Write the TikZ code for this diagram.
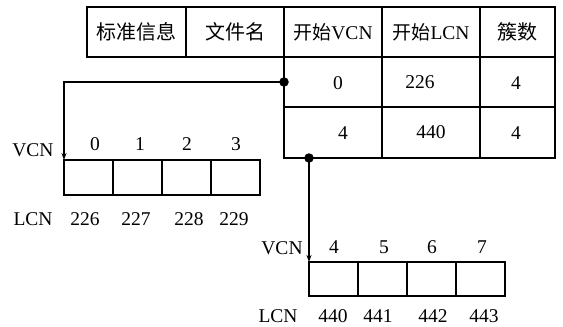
\documentclass[tikz,border=0pt]{standalone}
\usepackage{fontspec}
\setmainfont{Liberation Serif}
\newfontfamily\cjk{Noto Sans CJK SC}
\usetikzlibrary{arrows.meta}
\begin{document}
\begin{tikzpicture}[x=1pt,y=-1pt,
  lw/.style={line width=1.4pt},
  cell/.style={draw,lw,rectangle,inner sep=0pt,outer sep=0pt,font=\fontsize{19.5}{21}\selectfont},
  hcell/.style={cell,minimum height=50pt},
  blk/.style={draw,lw,rectangle,inner sep=0pt,outer sep=0pt,minimum width=49pt},
  lbl/.style={inner sep=0pt,font=\fontsize{19.5}{21}\selectfont},
  cj/.style={font=\fontsize{20}{22}\selectfont\cjk},
  conn/.style={lw,-{Stealth[length=7pt,width=5pt]}},
  dot/.style={circle,fill,inner sep=0pt,minimum size=9.5pt}
]
\useasboundingbox (0,0) rectangle (563,327);
% header row
\node[hcell,cj,minimum width=99pt] (h1) at (136.5,32) {标准信息};
\node[hcell,cj,minimum width=98pt] (h2) at (235,32) {文件名};
\node[hcell,minimum width=98pt] (h3) at (333,32) {{\cjk\fontsize{19}{21}\selectfont 开始}VCN};
\node[hcell,minimum width=98pt] (h4) at (431,32) {{\cjk\fontsize{19}{21}\selectfont 开始}LCN};
\node[hcell,cj,minimum width=75pt] (h5) at (517.5,32) {簇数};
% run rows
\node[cell,minimum width=98pt,minimum height=50pt] (r1a) at (333,82) {};
\node[cell,minimum width=98pt,minimum height=50pt] (r1b) at (431,82) {};
\node[cell,minimum width=75pt,minimum height=50pt] (r1c) at (517.5,82) {};
\node[cell,minimum width=98pt,minimum height=51pt] (r2a) at (333,132.5) {};
\node[cell,minimum width=98pt,minimum height=51pt] (r2b) at (431,132.5) {};
\node[cell,minimum width=75pt,minimum height=51pt] (r2c) at (517.5,132.5) {};
\node[lbl] (t1a) at (338,83) {0};
\node[lbl] (t1b) at (420,82) {226};
\node[lbl] (t1c) at (516,83) {4};
\node[lbl] (t2a) at (343,133) {4};
\node[lbl] (t2b) at (431,132) {440};
\node[lbl] (t2c) at (516,133) {4};
% left cluster blocks
\node[blk,minimum height=35pt] (c0) at (88.5,177.5) {};
\node[blk,minimum height=35pt] (c1) at (137.5,177.5) {};
\node[blk,minimum height=35pt] (c2) at (186.5,177.5) {};
\node[blk,minimum height=35pt] (c3) at (235.5,177.5) {};
\node[lbl] (vl) at (33,150) {VCN};
\node[lbl] (v0) at (95,144) {0};
\node[lbl] (v1) at (140,144) {1};
\node[lbl] (v2) at (187,144) {2};
\node[lbl] (v3) at (236,144) {3};
\node[lbl] (ll) at (33,219) {LCN};
\node[lbl] (l0) at (85,219) {226};
\node[lbl] (l1) at (136,219) {227};
\node[lbl] (l2) at (189,219) {228};
\node[lbl] (l3) at (234,219) {229};
% right cluster blocks
\node[blk,minimum height=34pt] (e0) at (333.5,279) {};
\node[blk,minimum height=34pt] (e1) at (382.5,279) {};
\node[blk,minimum height=34pt] (e2) at (431.5,279) {};
\node[blk,minimum height=34pt] (e3) at (480.5,279) {};
\node[lbl] (vr) at (282,248) {VCN};
\node[lbl] (v4) at (334,247) {4};
\node[lbl] (v5) at (384,247) {5};
\node[lbl] (v6) at (432,247) {6};
\node[lbl] (v7) at (482,247) {7};
\node[lbl] (lr) at (278,316) {LCN};
\node[lbl] (l4) at (333,316) {440};
\node[lbl] (l5) at (378,316) {441};
\node[lbl] (l6) at (433,316) {442};
\node[lbl] (l7) at (484,316) {443};
% connectors
\node[dot] (d1) at (r1a.west) {};
\coordinate (d2) at (309,158);
\node[dot] (d2dot) at (d2) {};
\draw[conn] (r1a.west) -| (c0.north west);
\draw[conn] (d2) -- (e0.north west);
\end{tikzpicture}
\end{document}
